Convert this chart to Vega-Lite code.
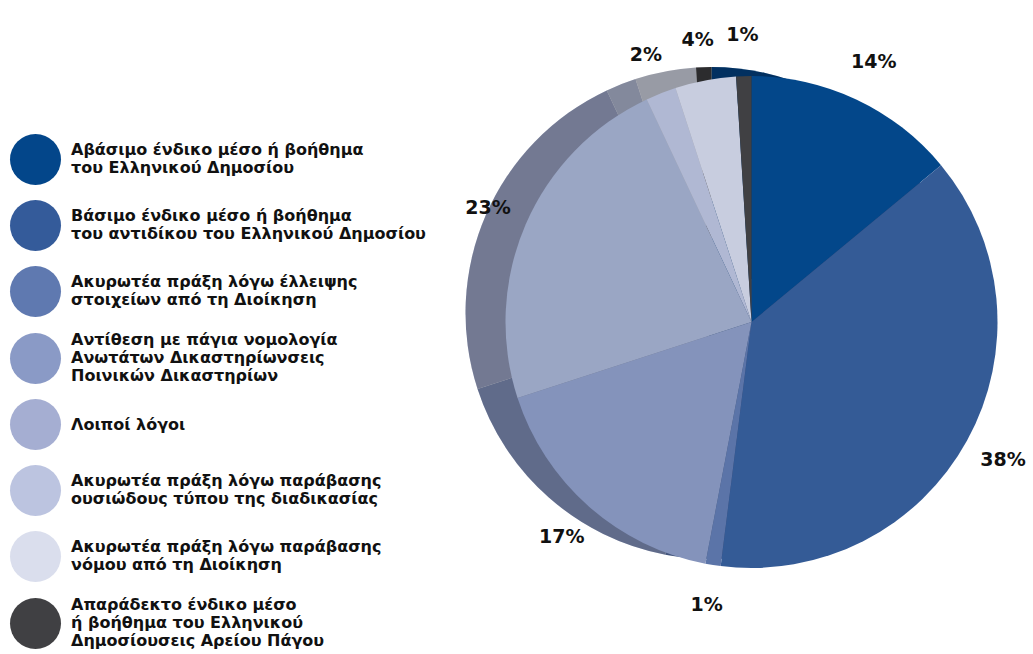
{
  "$schema": "https://vega.github.io/schema/vega-lite/v6.json",
  "autosize": {"type": "none"},
  "width": 563,
  "height": 644,
  "padding": {"left": 470, "top": 0, "right": 0, "bottom": 10},
  "background": "white",
  "data": {
    "values": [
      {"order": 1, "cat": "Αβάσιμο ένδικο μέσο ή βοήθημα\nτου Ελληνικού Δημοσίου", "value": 0.14},
      {"order": 2, "cat": "Βάσιμο ένδικο μέσο ή βοήθημα\nτου αντιδίκου  του Ελληνικού Δημοσίου", "value": 0.38},
      {"order": 3, "cat": "Ακυρωτέα πράξη λόγω έλλειψης\nστοιχείων από τη Διοίκηση", "value": 0.01},
      {"order": 4, "cat": "Αντίθεση με πάγια νομολογία\nΑνωτάτων Δικαστηρίωνσεις\nΠοινικών Δικαστηρίων", "value": 0.17},
      {"order": 5, "cat": "Λοιποί λόγοι", "value": 0.23},
      {"order": 6, "cat": "Ακυρωτέα πράξη λόγω παράβασης\nουσιώδους τύπου της διαδικασίας", "value": 0.02},
      {"order": 7, "cat": "Ακυρωτέα πράξη λόγω παράβασης\nνόμου από τη Διοίκηση", "value": 0.04},
      {"order": 8, "cat": "Απαράδεκτο ένδικο μέσο\nή βοήθημα του Ελληνικού\nΔημοσίουσεις Αρείου Πάγου", "value": 0.01}
    ]
  },
  "layer": [
    {
      "mark": {"type": "arc", "radius": 246, "xOffset": -40, "yOffset": -9, "stroke": null},
      "encoding": {
        "theta": {"field": "value", "type": "quantitative", "stack": true},
        "order": {"field": "order", "type": "quantitative"},
        "color": {
          "field": "cat",
          "type": "nominal",
          "sort": {"field": "order", "op": "min"},
          "scale": {"range": ["#03468a", "#345b9a", "#5f79b0", "#8a9ac6", "#a5aed2", "#bcc4e0", "#dadeed", "#404043"]},
          "legend": {
            "title": null,
            "orient": "none",
            "direction": "vertical",
            "legendX": -460,
            "legendY": 134,
            "symbolType": "circle",
            "symbolSize": 2601,
            "symbolStrokeWidth": 0,
            "symbolOpacity": 1,
            "labelFont": "DejaVu Sans",
            "labelFontSize": 16,
            "labelFontWeight": "bold",
            "labelColor": "#111111",
            "labelLimit": 500,
            "labelOffset": 10,
            "labelLineHeight": 18.5,
            "rowPadding": 15,
            "labelExpr": "split(datum.label, '\\n')",
            "encoding": {
              "labels": {
                "dy": {"value": {"expr": "-9.25 * (length(split(datum.label, '\\n')) - 1)"}}
              }
            }
          }
        }
      }
    },
    {
      "mark": {"type": "arc", "radius": 246, "xOffset": -40, "yOffset": -9, "color": "black", "opacity": 0.3, "stroke": null},
      "encoding": {
        "theta": {"field": "value", "type": "quantitative", "stack": true},
        "order": {"field": "order", "type": "quantitative"}
      }
    },
    {
      "mark": {"type": "arc", "radius": 246, "stroke": null},
      "encoding": {
        "theta": {"field": "value", "type": "quantitative", "stack": true},
        "order": {"field": "order", "type": "quantitative"},
        "color": {
          "field": "cat",
          "type": "nominal",
          "sort": {"field": "order", "op": "min"},
          "scale": {"range": ["#03478a", "#345b96", "#5b74a8", "#8493bb", "#9aa6c4", "#b0b8d3", "#c8cddf", "#404043"]},
          "legend": null
        }
      }
    },
    {
      "mark": {"type": "text", "radius": 287, "font": "DejaVu Sans", "fontSize": 19, "fontWeight": "bold", "color": "#111111", "align": "center", "baseline": "middle"},
      "encoding": {
        "theta": {"field": "value", "type": "quantitative", "stack": true},
        "order": {"field": "order", "type": "quantitative"},
        "text": {"field": "value", "type": "quantitative", "format": ".0%"}
      }
    }
  ],
  "resolve": {"scale": {"color": "independent"}},
  "config": {"view": {"stroke": null}}
}
